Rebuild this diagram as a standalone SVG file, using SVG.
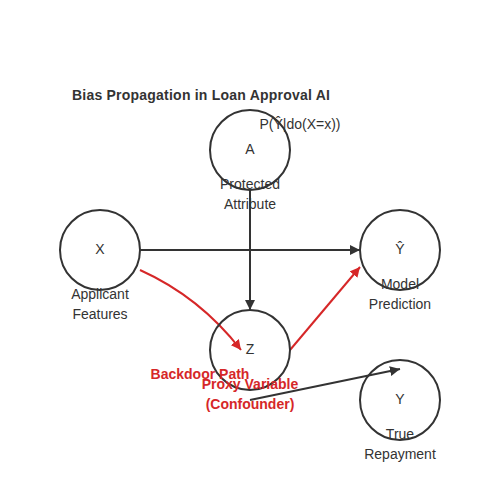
<svg xmlns="http://www.w3.org/2000/svg" width="500" height="500" viewBox="0 0 500 500">
<style>
.node{fill:none;stroke:#333;stroke-width:2}
.lbl{font-family:"Liberation Sans",Arial,sans-serif;font-size:14px;fill:#333;text-anchor:middle;dominant-baseline:middle}
.red{font-family:"Liberation Sans",Arial,sans-serif;font-size:14px;font-weight:bold;fill:#d62728;text-anchor:middle;dominant-baseline:middle}
.title{font-family:"Liberation Sans",Arial,sans-serif;font-size:14px;font-weight:bold;fill:#333;letter-spacing:0.22px}
.edge{fill:none;stroke:#333;stroke-width:2}
.redge{fill:none;stroke:#d62728;stroke-width:2}
</style>
<defs>
<marker id="ah" markerUnits="userSpaceOnUse" markerWidth="10" markerHeight="10" refX="10" refY="5" orient="auto"><path d="M0,0 L10,5 L0,10 z" fill="#333"/></marker>
<marker id="ahr" markerUnits="userSpaceOnUse" markerWidth="10" markerHeight="10" refX="10" refY="5" orient="auto"><path d="M0,0 L10,5 L0,10 z" fill="#d62728"/></marker>
</defs>
<rect width="500" height="500" fill="#fff"/>
<text class="title" x="72" y="100">Bias Propagation in Loan Approval AI</text>
<g id="connectors">
<line class="edge" x1="140" y1="250" x2="360" y2="250" marker-end="url(#ah)"/>
<line class="edge" x1="250" y1="190" x2="250" y2="310" marker-end="url(#ah)"/>
<path class="redge" d="M140,270 Q200,297 241,350" marker-end="url(#ahr)"/>
<line class="redge" x1="290" y1="350" x2="360" y2="267" marker-end="url(#ahr)"/>
<line class="edge" x1="250" y1="400" x2="400" y2="369" marker-end="url(#ah)"/>
</g>
<g id="node-A"><circle class="node" cx="250" cy="150" r="40"/><text class="lbl" x="250" y="150">A</text><text class="lbl" x="250" y="185">Protected</text><text class="lbl" x="250" y="205">Attribute</text></g>
<g id="node-X"><circle class="node" cx="100" cy="250" r="40"/><text class="lbl" x="100" y="250">X</text><text class="lbl" x="100" y="295">Applicant</text><text class="lbl" x="100" y="315">Features</text></g>
<g id="node-Yhat"><circle class="node" cx="400" cy="250" r="40"/><text class="lbl" x="400" y="250">Ŷ</text><text class="lbl" x="400" y="285">Model</text><text class="lbl" x="400" y="305">Prediction</text></g>
<g id="node-Z"><circle class="node" cx="250" cy="350" r="40"/><text class="lbl" x="250" y="350">Z</text><text class="red" x="250" y="385">Proxy Variable</text><text class="red" x="250" y="405">(Confounder)</text></g>
<g id="node-Y"><circle class="node" cx="400" cy="400" r="40"/><text class="lbl" x="400" y="400">Y</text><text class="lbl" x="400" y="435">True</text><text class="lbl" x="400" y="455">Repayment</text></g>
<text class="lbl" x="300" y="125">P(Ŷ|do(X=x))</text>
<text class="red" x="200" y="375">Backdoor Path</text>
</svg>
